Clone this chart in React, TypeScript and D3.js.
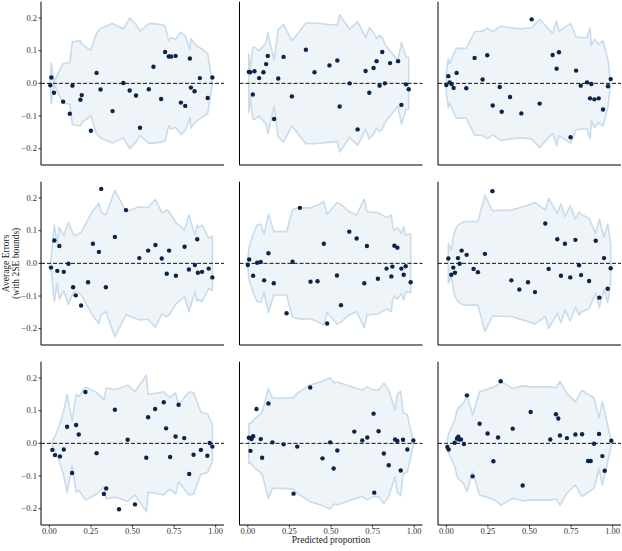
import React from "react";
import * as d3 from "d3";

// ---- data ----
const x_r1c1 = [0.006,0.012,0.028,0.083,0.123,0.139,0.187,0.195,0.250,0.284,0.308,0.380,0.445,0.483,0.521,0.545,0.598,0.626,0.672,0.696,0.718,0.732,0.759,0.791,0.817,0.845,0.851,0.873,0.905,0.952,0.980];
const y_r1c1 = [-0.006,0.018,-0.029,-0.056,-0.093,-0.007,-0.050,-0.036,-0.145,0.032,-0.019,-0.085,0.001,-0.022,-0.037,-0.136,-0.018,0.051,-0.048,0.096,0.082,0.082,0.084,-0.059,-0.069,0.076,-0.013,-0.024,0.016,-0.045,0.018];
const se_r1c1 = [0.005,0.063,0.003,0.061,0.063,0.127,0.13,0.12,0.10,0.155,0.167,0.183,0.167,0.20,0.18,0.16,0.183,0.183,0.18,0.176,0.13,0.14,0.135,0.157,0.145,0.104,0.137,0.12,0.109,0.092,0.0];

const x_r1c2 = [0.006,0.014,0.030,0.040,0.068,0.094,0.110,0.120,0.158,0.183,0.215,0.265,0.349,0.401,0.491,0.538,0.552,0.612,0.660,0.708,0.730,0.756,0.774,0.792,0.808,0.824,0.855,0.903,0.923,0.951,0.967];
const y_r1c2 = [0.035,0.034,-0.034,0.037,0.016,0.034,0.059,0.084,-0.109,0.015,0.081,-0.040,0.103,0.034,0.055,0.070,-0.071,0.0,-0.141,0.038,-0.029,0.047,0.068,-0.007,0.096,0.0,0.062,0.068,-0.066,-0.003,-0.018];
const se_r1c2 = [0.09,0.04,0.11,0.11,0.10,0.115,0.125,0.155,0.07,0.165,0.18,0.13,0.185,0.185,0.18,0.178,0.21,0.165,0.19,0.14,0.17,0.155,0.137,0.147,0.14,0.12,0.10,0.07,0.125,0.08,0.08];

const x_r1c3 = [0.0,0.012,0.020,0.032,0.044,0.062,0.120,0.170,0.218,0.246,0.279,0.321,0.333,0.383,0.451,0.513,0.561,0.639,0.663,0.677,0.747,0.780,0.808,0.846,0.864,0.872,0.890,0.916,0.942,0.972,0.988];
const y_r1c3 = [-0.005,0.022,0.003,-0.002,-0.014,0.032,-0.015,0.078,0.012,0.086,-0.068,-0.011,-0.087,-0.042,-0.092,0.196,-0.062,0.087,0.045,0.095,-0.165,0.039,-0.007,0.003,-0.046,-0.002,-0.049,-0.046,-0.080,-0.009,0.013];
const se_r1c3 = [0.03,0.075,0.06,0.075,0.09,0.107,0.107,0.158,0.16,0.169,0.158,0.173,0.175,0.17,0.167,0.17,0.196,0.153,0.19,0.16,0.183,0.142,0.14,0.14,0.17,0.115,0.135,0.12,0.13,0.071,0.0];

const x_r2c1 = [0.010,0.030,0.048,0.060,0.087,0.115,0.143,0.159,0.191,0.233,0.262,0.298,0.312,0.340,0.394,0.461,0.541,0.594,0.638,0.676,0.706,0.720,0.761,0.813,0.839,0.875,0.889,0.893,0.918,0.958,0.980];
const y_r2c1 = [-0.013,0.070,-0.023,0.053,-0.026,-0.001,-0.073,-0.098,-0.129,-0.058,0.060,0.035,0.228,-0.073,0.081,0.163,0.016,0.039,0.056,0.015,-0.032,0.039,-0.038,0.051,-0.019,-0.005,0.074,-0.029,-0.026,-0.016,-0.043];
const se_r2c1 = [0.01,0.117,0.06,0.11,0.085,0.125,0.09,0.085,0.095,0.135,0.16,0.184,0.157,0.148,0.224,0.158,0.173,0.171,0.196,0.155,0.163,0.158,0.125,0.102,0.148,0.087,0.117,0.11,0.117,0.077,0.083];

const x_r2c2 = [0.0,0.008,0.032,0.056,0.078,0.098,0.124,0.156,0.233,0.269,0.313,0.377,0.419,0.457,0.477,0.536,0.560,0.610,0.654,0.700,0.716,0.782,0.834,0.863,0.869,0.881,0.899,0.923,0.937,0.949,0.979];
const y_r2c2 = [-0.005,0.012,-0.038,0.002,0.004,-0.052,0.031,-0.061,-0.153,0.005,0.170,-0.056,-0.055,0.060,-0.184,-0.037,-0.128,0.097,0.076,-0.061,0.053,-0.047,-0.016,-0.040,-0.010,0.054,0.048,-0.016,-0.035,-0.009,-0.058];
const se_r2c2 = [0.01,0.05,0.09,0.117,0.12,0.09,0.15,0.097,0.097,0.165,0.17,0.17,0.178,0.189,0.15,0.186,0.18,0.158,0.148,0.197,0.158,0.155,0.14,0.148,0.115,0.1,0.11,0.092,0.112,0.087,0.09];

const x_r2c3 = [0.012,0.030,0.042,0.052,0.070,0.080,0.092,0.122,0.164,0.190,0.232,0.277,0.391,0.439,0.491,0.533,0.595,0.615,0.667,0.689,0.713,0.745,0.776,0.798,0.810,0.858,0.898,0.920,0.948,0.970,0.988];
const y_r2c3 = [0.015,-0.035,-0.013,-0.029,0.016,-0.001,0.039,0.026,-0.017,-0.027,0.029,0.221,-0.052,-0.080,-0.058,-0.088,0.122,-0.017,0.074,-0.038,0.060,-0.043,0.072,-0.006,-0.036,-0.054,0.069,-0.105,0.016,-0.078,-0.015];
const se_r2c3 = [0.061,0.04,0.08,0.10,0.117,0.12,0.125,0.128,0.128,0.128,0.209,0.161,0.163,0.17,0.178,0.186,0.163,0.199,0.153,0.182,0.143,0.176,0.135,0.158,0.15,0.138,0.092,0.135,0.08,0.12,0.061];

const x_r3c1 = [0.018,0.034,0.064,0.087,0.107,0.137,0.161,0.177,0.217,0.284,0.328,0.342,0.394,0.419,0.471,0.515,0.583,0.594,0.636,0.688,0.702,0.726,0.759,0.777,0.811,0.841,0.867,0.911,0.950,0.964,0.980];
const y_r3c1 = [-0.020,-0.036,-0.040,-0.019,0.051,-0.091,0.056,0.027,0.157,-0.030,-0.155,-0.138,0.103,-0.202,0.011,-0.187,-0.044,0.080,0.105,0.126,0.046,-0.042,0.021,0.118,0.016,-0.094,-0.035,-0.020,-0.038,0.001,-0.010];
const se_r3c1 = [0.01,0.02,0.06,0.10,0.15,0.068,0.15,0.143,0.173,0.156,0.133,0.17,0.165,0.168,0.178,0.158,0.209,0.15,0.153,0.158,0.15,0.14,0.155,0.117,0.14,0.158,0.155,0.095,0.09,0.075,0.056];

const x_r3c2 = [0.006,0.016,0.022,0.024,0.032,0.052,0.078,0.086,0.124,0.148,0.215,0.275,0.297,0.375,0.449,0.495,0.516,0.538,0.640,0.688,0.718,0.756,0.760,0.786,0.818,0.847,0.885,0.899,0.919,0.933,0.959,0.995];
const y_r3c2 = [0.017,-0.023,0.013,0.017,0.022,0.105,0.013,-0.044,0.122,0.003,-0.003,-0.154,-0.010,0.171,-0.046,0.003,-0.077,-0.022,0.036,0.009,0.018,0.091,-0.151,0.037,-0.031,-0.067,0.012,0.007,-0.083,0.011,-0.019,0.009];
const se_r3c2 = [0.061,0.06,0.065,0.065,0.07,0.08,0.09,0.095,0.168,0.138,0.138,0.14,0.153,0.179,0.19,0.201,0.186,0.188,0.17,0.163,0.173,0.163,0.163,0.163,0.184,0.163,0.102,0.15,0.16,0.094,0.087,0.005];

const x_r3c3 = [0.006,0.014,0.050,0.064,0.072,0.076,0.088,0.106,0.124,0.158,0.200,0.248,0.283,0.311,0.327,0.399,0.459,0.507,0.625,0.659,0.673,0.683,0.725,0.776,0.816,0.852,0.868,0.888,0.918,0.938,0.952,0.992];
const y_r3c3 = [-0.011,-0.019,0.002,0.015,0.020,0.012,0.012,-0.002,0.147,-0.101,0.060,0.030,-0.055,0.018,0.190,0.045,-0.129,0.096,0.012,0.089,0.076,0.024,0.016,0.027,0.028,-0.054,-0.054,-0.001,0.029,-0.039,-0.084,0.008];
const se_r3c3 = [0.01,0.03,0.07,0.10,0.11,0.11,0.115,0.125,0.148,0.087,0.158,0.166,0.172,0.18,0.19,0.168,0.176,0.173,0.173,0.17,0.18,0.19,0.152,0.128,0.163,0.15,0.145,0.138,0.078,0.128,0.098,0.005];

const yTicks = [-0.2, -0.1, 0.0, 0.1, 0.2];
const xTicks = [0.0, 0.25, 0.5, 0.75, 1.0];
const yLabelLines = ["Average Errors", "(with 2SE bounds)"];
const xLabel = "Predicted proportion";

const panels = [
  [x_r1c1, y_r1c1, se_r1c1], [x_r1c2, y_r1c2, se_r1c2], [x_r1c3, y_r1c3, se_r1c3],
  [x_r2c1, y_r2c1, se_r2c1], [x_r2c2, y_r2c2, se_r2c2], [x_r2c3, y_r2c3, se_r2c3],
  [x_r3c1, y_r3c1, se_r3c1], [x_r3c2, y_r3c2, se_r3c2], [x_r3c3, y_r3c3, se_r3c3],
];

const W = 622, H = 551;
const colLeft = [41, 239.5, 438];
const rowTop = [1.7, 181.7, 361.7];
const PW = 183, PH = 163.3;
const FONT = "'Liberation Serif', 'Times New Roman', serif";

const x = d3.scaleLinear().domain([-0.05, 1.05]).range([0, PW]);
const y = d3.scaleLinear().domain([-0.25, 0.25]).range([PH, 0]);
const fmtY = (v: number) => d3.format(".1f")(v).replace("-", "\u2212");
const fmtX = d3.format(".2f");

function Panel({ idx }: { idx: number }) {
  const [xs, ys, se] = panels[idx];
  const r = Math.floor(idx / 3), c = idx % 3;
  const rows = xs.map((v, i) => ({ x: v, y: ys[i], s: se[i] }));
  const area = d3.area<any>().x((d) => x(d.x)).y0((d) => y(-d.s)).y1((d) => y(d.s));
  return (
    <g transform={`translate(${colLeft[c]},${rowTop[r]})`}>
      <path d={area(rows) || ""} fill="#eff4f9" stroke="#c8dcec" strokeWidth={1.6} strokeLinejoin="round" />
      <line x1={0} x2={PW} y1={y(0)} y2={y(0)} stroke="#111" strokeWidth={1} strokeDasharray="4,2" />
      {rows.map((d, i) => (
        <circle key={i} cx={x(d.x)} cy={y(d.y)} r={2.2} fill="#0c2448" />
      ))}
      <line x1={0} x2={0} y1={0} y2={PH} stroke="#000" strokeWidth={1} />
      <line x1={0} x2={PW} y1={PH} y2={PH} stroke="#000" strokeWidth={1} />
      {c === 0 && yTicks.map((t) => (
        <g key={t}>
          <line x1={-2.5} x2={0} y1={y(t)} y2={y(t)} stroke="#000" strokeWidth={0.8} />
          <text x={-4} y={y(t)} dy="0.33em" textAnchor="end" fontSize={8.5} fontFamily={FONT} fill="#333">{fmtY(t)}</text>
        </g>
      ))}
      {r === 2 && xTicks.map((t) => (
        <g key={t}>
          <line x1={x(t)} x2={x(t)} y1={PH} y2={PH + 2.5} stroke="#000" strokeWidth={0.8} />
          <text x={x(t)} y={PH + 8.8} textAnchor="middle" fontSize={8.5} fontFamily={FONT} fill="#333">{fmtX(t)}</text>
        </g>
      ))}
    </g>
  );
}

export default function App() {
  return (
    <svg width={W} height={H} style={{ display: "block", position: "absolute", left: 0, top: 0 }}>
      <rect width={W} height={H} fill="#fff" />
      {panels.map((_, i) => <Panel key={i} idx={i} />)}
      <g transform={`translate(0,${rowTop[1] + PH / 2}) rotate(-90)`}>
        {yLabelLines.map((s, i) => (
          <text key={i} x={0} y={8.5 + i * 10} textAnchor="middle" fontSize={9.5} fontFamily={FONT} fill="#222">{s}</text>
        ))}
      </g>
      <text x={colLeft[1] + PW / 2} y={543} textAnchor="middle" fontSize={9.5} fontFamily={FONT} fill="#222">{xLabel}</text>
    </svg>
  );
}
